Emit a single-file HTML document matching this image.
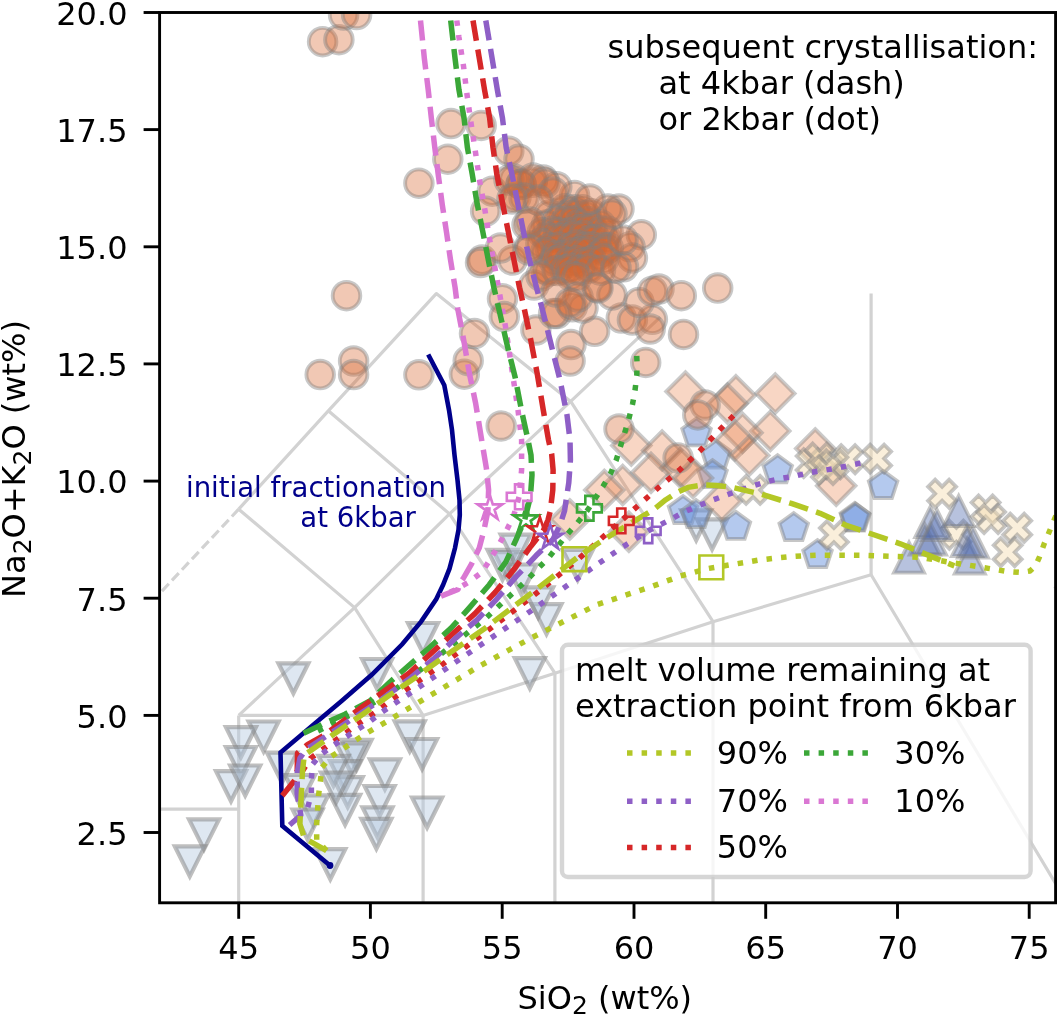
<!DOCTYPE html>
<html><head><meta charset="utf-8"><title>TAS diagram</title>
<style>html,body{margin:0;padding:0;background:#fff}body{width:1057px;height:1016px;overflow:hidden}</style>
</head><body>
<svg width="1057" height="1016" viewBox="0 0 1057 1016" style="display:block;font-family:'DejaVu Sans','Liberation Sans',sans-serif;will-change:transform">
<rect width="1057" height="1016" fill="#fff"/>
<defs><clipPath id="ax"><rect x="159.6" y="12.5" width="897.4" height="890.3"/></clipPath></defs>
<g clip-path="url(#ax)">
<polyline points="133.2,809.1 238.7,809.1" fill="none" stroke="#d2d2d2" stroke-width="3.2" stroke-linejoin="round"/>
<polyline points="238.7,902.8 238.7,715.4" fill="none" stroke="#d2d2d2" stroke-width="3.2" stroke-linejoin="round"/>
<polyline points="238.7,715.4 423.1,715.4 554.9,673.2 713.0,621.7 871.1,574.8 1095.1,949.7" fill="none" stroke="#d2d2d2" stroke-width="3.2" stroke-linejoin="round"/>
<polyline points="423.1,902.8 423.1,715.4" fill="none" stroke="#d2d2d2" stroke-width="3.2" stroke-linejoin="round"/>
<polyline points="554.9,902.8 554.9,673.2" fill="none" stroke="#d2d2d2" stroke-width="3.2" stroke-linejoin="round"/>
<polyline points="713.0,902.8 713.0,621.7" fill="none" stroke="#d2d2d2" stroke-width="3.2" stroke-linejoin="round"/>
<polyline points="871.1,574.8 871.1,293.6" fill="none" stroke="#d2d2d2" stroke-width="3.2" stroke-linejoin="round"/>
<polyline points="238.7,715.4 354.6,607.6 449.5,513.9 570.7,401.4 660.3,317.1" fill="none" stroke="#d2d2d2" stroke-width="3.2" stroke-linejoin="round"/>
<polyline points="423.1,715.4 354.6,607.6 238.7,509.2" fill="none" stroke="#d2d2d2" stroke-width="3.2" stroke-linejoin="round"/>
<polyline points="554.9,673.2 449.5,513.9 328.3,410.8" fill="none" stroke="#d2d2d2" stroke-width="3.2" stroke-linejoin="round"/>
<polyline points="713.0,621.7 570.7,401.4 436.3,293.6 328.3,410.8 238.7,509.2" fill="none" stroke="#d2d2d2" stroke-width="3.2" stroke-linejoin="round"/>
<polyline points="238.7,509.2 133.2,621.7" fill="none" stroke="#d2d2d2" stroke-width="3.2" stroke-dasharray="10 4.6"/>
<g fill="#b4c9de" fill-opacity="0.44" stroke="#808080" stroke-opacity="0.5" stroke-width="4.2" stroke-linejoin="miter">
<path d="M293.4 693.3 L308.4 663.3 L278.4 663.3Z"/>
<path d="M377.1 689.0 L392.1 659.0 L362.1 659.0Z"/>
<path d="M263.6 751.5 L278.6 721.5 L248.6 721.5Z"/>
<path d="M240.9 757.2 L255.9 727.2 L225.9 727.2Z"/>
<path d="M240.9 777.0 L255.9 747.0 L225.9 747.0Z"/>
<path d="M231.0 801.2 L246.0 771.2 L216.0 771.2Z"/>
<path d="M245.2 795.5 L260.2 765.5 L230.2 765.5Z"/>
<path d="M204.0 849.4 L219.0 819.4 L189.0 819.4Z"/>
<path d="M189.8 876.4 L204.8 846.4 L174.8 846.4Z"/>
<path d="M409.7 751.3 L424.7 721.3 L394.7 721.3Z"/>
<path d="M422.1 769.0 L437.1 739.0 L407.1 739.0Z"/>
<path d="M427.1 827.5 L442.1 797.5 L412.1 797.5Z"/>
<path d="M330.3 879.2 L345.3 849.2 L315.3 849.2Z"/>
<path d="M384.9 789.4 L399.9 759.4 L369.9 759.4Z"/>
<path d="M379.6 816.0 L394.6 786.0 L364.6 786.0Z"/>
<path d="M377.5 837.3 L392.5 807.3 L362.5 807.3Z"/>
<path d="M376.4 848.8 L391.4 818.8 L361.4 818.8Z"/>
<path d="M356.6 769.9 L371.6 739.9 L341.6 739.9Z"/>
<path d="M351.3 773.5 L366.3 743.5 L336.3 743.5Z"/>
<path d="M345.1 791.2 L360.1 761.2 L330.1 761.2Z"/>
<path d="M347.7 807.1 L362.7 777.1 L332.7 777.1Z"/>
<path d="M345.1 824.9 L360.1 794.9 L330.1 794.9Z"/>
<path d="M333.5 785.9 L348.5 755.9 L318.5 755.9Z"/>
<path d="M282.0 782.7 L297.0 752.7 L267.0 752.7Z"/>
<path d="M313.3 825.3 L328.3 795.3 L298.3 795.3Z"/>
<path d="M307.6 839.5 L322.6 809.5 L292.6 809.5Z"/>
<path d="M336.0 802.6 L351.0 772.6 L321.0 772.6Z"/>
<path d="M300.0 805.0 L315.0 775.0 L285.0 775.0Z"/>
<path d="M423.0 653.0 L438.0 623.0 L408.0 623.0Z"/>
<path d="M529.8 688.2 L544.8 658.2 L514.8 658.2Z"/>
<path d="M546.5 634.1 L561.5 604.1 L531.5 604.1Z"/>
<path d="M538.2 617.4 L553.2 587.4 L523.2 587.4Z"/>
<path d="M509.0 582.1 L524.0 552.1 L494.0 552.1Z"/>
<path d="M521.5 594.5 L536.5 564.5 L506.5 564.5Z"/>
<path d="M577.7 580.0 L592.7 550.0 L562.7 550.0Z"/>
<path d="M502.5 579.9 L517.5 549.9 L487.5 549.9Z"/>
<path d="M515.7 564.7 L530.7 534.7 L500.7 534.7Z"/>
<path d="M696.2 540.3 L711.2 510.3 L681.2 510.3Z"/>
<path d="M712.1 549.4 L727.1 519.4 L697.1 519.4Z"/>
</g>
<g fill="#6a93dd" fill-opacity="0.5" stroke="#808080" stroke-opacity="0.45" stroke-width="3.8" stroke-linejoin="miter">
<path d="M696.5 418.3 L710.8 428.7 L705.3 445.4 L687.7 445.4 L682.2 428.7Z"/>
<path d="M716.2 440.5 L730.5 450.9 L725.0 467.6 L707.4 467.6 L701.9 450.9Z"/>
<path d="M712.5 460.1 L726.8 470.5 L721.3 487.2 L703.7 487.2 L698.2 470.5Z"/>
<path d="M777.7 455.2 L792.0 465.6 L786.5 482.3 L768.9 482.3 L763.4 465.6Z"/>
<path d="M683.0 496.0 L697.3 506.4 L691.8 523.1 L674.2 523.1 L668.7 506.4Z"/>
<path d="M696.0 500.0 L710.3 510.4 L704.8 527.1 L687.2 527.1 L681.7 510.4Z"/>
<path d="M735.9 511.8 L750.2 522.2 L744.7 538.9 L727.1 538.9 L721.6 522.2Z"/>
<path d="M793.7 513.0 L808.0 523.4 L802.5 540.1 L784.9 540.1 L779.4 523.4Z"/>
<path d="M817.5 540.0 L831.8 550.4 L826.3 567.1 L808.7 567.1 L803.2 550.4Z"/>
<path d="M883.1 470.9 L897.4 481.3 L891.9 498.0 L874.3 498.0 L868.8 481.3Z"/>
<path d="M854.8 502.9 L869.1 513.3 L863.6 530.0 L846.0 530.0 L840.5 513.3Z"/>
<path d="M855.5 503.5 L869.8 513.9 L864.3 530.6 L846.7 530.6 L841.2 513.9Z"/>
</g>
<g fill="#ea7a42" fill-opacity="0.31" stroke="#808080" stroke-opacity="0.42" stroke-width="4.1" stroke-linejoin="miter">
<path d="M685.5 372.4 L704.6 391.5 L685.5 410.6 L666.4 391.5Z"/>
<path d="M735.9 376.1 L755.0 395.2 L735.9 414.3 L716.8 395.2Z"/>
<path d="M775.3 374.4 L794.4 393.5 L775.3 412.6 L756.2 393.5Z"/>
<path d="M770.3 411.8 L789.4 430.9 L770.3 450.0 L751.2 430.9Z"/>
<path d="M742.5 413.7 L761.6 432.8 L742.5 451.9 L723.4 432.8Z"/>
<path d="M735.0 421.2 L754.1 440.3 L735.0 459.4 L715.9 440.3Z"/>
<path d="M749.3 436.4 L768.4 455.5 L749.3 474.6 L730.2 455.5Z"/>
<path d="M631.3 426.5 L650.4 445.6 L631.3 464.7 L612.2 445.6Z"/>
<path d="M662.1 431.4 L681.2 450.5 L662.1 469.6 L643.0 450.5Z"/>
<path d="M651.0 453.6 L670.1 472.7 L651.0 491.8 L631.9 472.7Z"/>
<path d="M680.5 448.7 L699.6 467.8 L680.5 486.9 L661.4 467.8Z"/>
<path d="M622.7 465.9 L641.8 485.0 L622.7 504.1 L603.6 485.0Z"/>
<path d="M604.3 470.8 L623.4 489.9 L604.3 509.0 L585.2 489.9Z"/>
<path d="M569.8 500.3 L588.9 519.4 L569.8 538.5 L550.7 519.4Z"/>
<path d="M721.8 482.1 L740.9 501.2 L721.8 520.3 L702.7 501.2Z"/>
<path d="M628.9 512.6 L648.0 531.7 L628.9 550.8 L609.8 531.7Z"/>
<path d="M727.5 384.4 L746.6 403.5 L727.5 422.6 L708.4 403.5Z"/>
<path d="M693.0 458.9 L712.1 478.0 L693.0 497.1 L673.9 478.0Z"/>
<path d="M815.2 429.3 L834.3 448.4 L815.2 467.5 L796.1 448.4Z"/>
<path d="M836.2 466.7 L855.3 485.8 L836.2 504.9 L817.1 485.8Z"/>
<path d="M1075.5 568.4 L1094.6 587.5 L1075.5 606.6 L1056.4 587.5Z"/>
</g>
<g fill="#f5deb3" fill-opacity="0.47" stroke="#808080" stroke-opacity="0.45" stroke-width="3.8" stroke-linejoin="miter">
<path d="M746.1 475.9 L753.1 482.9 L760.1 475.9 L767.1 482.9 L760.1 489.9 L767.1 496.9 L760.1 503.9 L753.1 496.9 L746.1 503.9 L739.1 496.9 L746.1 489.9 L739.1 482.9Z"/>
<path d="M870.1 444.6 L877.1 451.6 L884.1 444.6 L891.1 451.6 L884.1 458.6 L891.1 465.6 L884.1 472.6 L877.1 465.6 L870.1 472.6 L863.1 465.6 L870.1 458.6 L863.1 451.6Z"/>
<path d="M841.1 445.2 L848.1 452.2 L855.1 445.2 L862.1 452.2 L855.1 459.2 L862.1 466.2 L855.1 473.2 L848.1 466.2 L841.1 473.2 L834.1 466.2 L841.1 459.2 L834.1 452.2Z"/>
<path d="M803.7 449.1 L810.7 456.1 L817.7 449.1 L824.7 456.1 L817.7 463.1 L824.7 470.1 L817.7 477.1 L810.7 470.1 L803.7 477.1 L796.7 470.1 L803.7 463.1 L796.7 456.1Z"/>
<path d="M812.7 443.5 L819.7 450.5 L826.7 443.5 L833.7 450.5 L826.7 457.5 L833.7 464.5 L826.7 471.5 L819.7 464.5 L812.7 471.5 L805.7 464.5 L812.7 457.5 L805.7 450.5Z"/>
<path d="M826.4 450.3 L833.4 457.3 L840.4 450.3 L847.4 457.3 L840.4 464.3 L847.4 471.3 L840.4 478.3 L833.4 471.3 L826.4 478.3 L819.4 471.3 L826.4 464.3 L819.4 457.3Z"/>
<path d="M819.0 456.0 L826.0 463.0 L833.0 456.0 L840.0 463.0 L833.0 470.0 L840.0 477.0 L833.0 484.0 L826.0 477.0 L819.0 484.0 L812.0 477.0 L819.0 470.0 L812.0 463.0Z"/>
<path d="M935.1 479.7 L942.1 486.7 L949.1 479.7 L956.1 486.7 L949.1 493.7 L956.1 500.7 L949.1 507.7 L942.1 500.7 L935.1 507.7 L928.1 500.7 L935.1 493.7 L928.1 486.7Z"/>
<path d="M978.6 495.5 L985.6 502.5 L992.6 495.5 L999.6 502.5 L992.6 509.5 L999.6 516.5 L992.6 523.5 L985.6 516.5 L978.6 523.5 L971.6 516.5 L978.6 509.5 L971.6 502.5Z"/>
<path d="M984.1 505.0 L991.1 512.0 L998.1 505.0 L1005.1 512.0 L998.1 519.0 L1005.1 526.0 L998.1 533.0 L991.1 526.0 L984.1 533.0 L977.1 526.0 L984.1 519.0 L977.1 512.0Z"/>
<path d="M1010.2 513.7 L1017.2 520.7 L1024.2 513.7 L1031.2 520.7 L1024.2 527.7 L1031.2 534.7 L1024.2 541.7 L1017.2 534.7 L1010.2 541.7 L1003.2 534.7 L1010.2 527.7 L1003.2 520.7Z"/>
<path d="M1000.7 538.2 L1007.7 545.2 L1014.7 538.2 L1021.7 545.2 L1014.7 552.2 L1021.7 559.2 L1014.7 566.2 L1007.7 559.2 L1000.7 566.2 L993.7 559.2 L1000.7 552.2 L993.7 545.2Z"/>
<path d="M949.4 520.8 L956.4 527.8 L963.4 520.8 L970.4 527.8 L963.4 534.8 L970.4 541.8 L963.4 548.8 L956.4 541.8 L949.4 548.8 L942.4 541.8 L949.4 534.8 L942.4 527.8Z"/>
<path d="M826.9 521.1 L833.9 528.1 L840.9 521.1 L847.9 528.1 L840.9 535.1 L847.9 542.1 L840.9 549.1 L833.9 542.1 L826.9 549.1 L819.9 542.1 L826.9 535.1 L819.9 528.1Z"/>
</g>
<g fill="#4a66ad" fill-opacity="0.4" stroke="#808080" stroke-opacity="0.45" stroke-width="3.8" stroke-linejoin="miter">
<path d="M909.0 542.7 L924.0 572.7 L894.0 572.7Z"/>
<path d="M930.3 507.1 L945.3 537.1 L915.3 537.1Z"/>
<path d="M924.8 524.5 L939.8 554.5 L909.8 554.5Z"/>
<path d="M931.0 524.5 L946.0 554.5 L916.0 554.5Z"/>
<path d="M958.7 496.0 L973.7 526.0 L943.7 526.0Z"/>
<path d="M969.8 543.5 L984.8 573.5 L954.8 573.5Z"/>
<path d="M973.0 527.7 L988.0 557.7 L958.0 557.7Z"/>
<path d="M967.0 526.0 L982.0 556.0 L952.0 556.0Z"/>
<path d="M937.0 510.0 L952.0 540.0 L922.0 540.0Z"/>
</g>
<g fill="#d8672e" fill-opacity="0.36" stroke="#808080" stroke-opacity="0.43" stroke-width="3.9" stroke-linejoin="miter">
<circle cx="322.6" cy="41.7" r="13.8"/>
<circle cx="338.9" cy="39.7" r="13.8"/>
<circle cx="343.6" cy="15.0" r="13.8"/>
<circle cx="356.6" cy="14.5" r="13.8"/>
<circle cx="451.0" cy="123.6" r="13.8"/>
<circle cx="481.2" cy="125.4" r="13.8"/>
<circle cx="447.8" cy="159.2" r="13.8"/>
<circle cx="418.9" cy="183.2" r="13.8"/>
<circle cx="346.5" cy="295.7" r="13.8"/>
<circle cx="320.2" cy="374.6" r="13.8"/>
<circle cx="353.6" cy="361.0" r="13.8"/>
<circle cx="353.6" cy="374.6" r="13.8"/>
<circle cx="418.9" cy="374.8" r="13.8"/>
<circle cx="464.3" cy="374.2" r="13.8"/>
<circle cx="468.2" cy="360.7" r="13.8"/>
<circle cx="474.5" cy="333.5" r="13.8"/>
<circle cx="501.2" cy="426.0" r="13.8"/>
<circle cx="508.8" cy="151.2" r="13.8"/>
<circle cx="519.0" cy="159.2" r="13.8"/>
<circle cx="492.3" cy="191.2" r="13.8"/>
<circle cx="485.6" cy="211.2" r="13.8"/>
<circle cx="482.1" cy="260.1" r="13.8"/>
<circle cx="480.5" cy="262.5" r="13.8"/>
<circle cx="512.3" cy="260.1" r="13.8"/>
<circle cx="502.5" cy="298.8" r="13.8"/>
<circle cx="504.3" cy="316.6" r="13.8"/>
<circle cx="535.9" cy="330.0" r="13.8"/>
<circle cx="556.8" cy="313.5" r="13.8"/>
<circle cx="571.0" cy="344.6" r="13.8"/>
<circle cx="570.1" cy="361.0" r="13.8"/>
<circle cx="594.6" cy="331.3" r="13.8"/>
<circle cx="572.4" cy="306.8" r="13.8"/>
<circle cx="583.0" cy="308.0" r="13.8"/>
<circle cx="621.3" cy="318.0" r="13.8"/>
<circle cx="632.4" cy="320.1" r="13.8"/>
<circle cx="652.4" cy="319.3" r="13.8"/>
<circle cx="650.2" cy="329.0" r="13.8"/>
<circle cx="639.0" cy="302.4" r="13.8"/>
<circle cx="652.4" cy="291.2" r="13.8"/>
<circle cx="659.0" cy="289.0" r="13.8"/>
<circle cx="681.3" cy="295.7" r="13.8"/>
<circle cx="683.5" cy="334.4" r="13.8"/>
<circle cx="717.7" cy="288.1" r="13.8"/>
<circle cx="645.7" cy="362.4" r="13.8"/>
<circle cx="619.0" cy="429.0" r="13.8"/>
<circle cx="641.3" cy="234.8" r="13.8"/>
<circle cx="630.1" cy="246.8" r="13.8"/>
<circle cx="632.4" cy="257.9" r="13.8"/>
<circle cx="623.5" cy="266.8" r="13.8"/>
<circle cx="619.0" cy="209.0" r="13.8"/>
<circle cx="607.9" cy="209.0" r="13.8"/>
<circle cx="574.6" cy="195.6" r="13.8"/>
<circle cx="543.4" cy="180.1" r="13.8"/>
<circle cx="532.3" cy="182.3" r="13.8"/>
<circle cx="521.2" cy="184.5" r="13.8"/>
<circle cx="556.8" cy="186.7" r="13.8"/>
<circle cx="553.6" cy="313.5" r="13.8"/>
<circle cx="597.0" cy="287.0" r="13.8"/>
<circle cx="612.0" cy="295.0" r="13.8"/>
<circle cx="705.1" cy="405.0" r="13.8"/>
<circle cx="697.8" cy="414.9" r="13.8"/>
<circle cx="678.1" cy="457.9" r="13.8"/>
<circle cx="514.0" cy="179.0" r="13.8"/>
<circle cx="516.0" cy="197.0" r="13.8"/>
<circle cx="500.5" cy="248.0" r="13.8"/>
<circle cx="527.0" cy="225.0" r="13.8"/>
<circle cx="530.0" cy="246.0" r="13.8"/>
<circle cx="546.0" cy="269.0" r="13.8"/>
<circle cx="534.0" cy="285.0" r="13.8"/>
<circle cx="549.0" cy="271.0" r="13.8"/>
<circle cx="565.0" cy="208.8" r="13.8"/>
<circle cx="574.3" cy="209.8" r="13.8"/>
<circle cx="582.4" cy="209.7" r="13.8"/>
<circle cx="549.4" cy="215.0" r="13.8"/>
<circle cx="562.4" cy="215.9" r="13.8"/>
<circle cx="570.6" cy="213.3" r="13.8"/>
<circle cx="576.8" cy="213.9" r="13.8"/>
<circle cx="585.6" cy="215.6" r="13.8"/>
<circle cx="591.4" cy="213.8" r="13.8"/>
<circle cx="546.5" cy="224.9" r="13.8"/>
<circle cx="557.3" cy="221.1" r="13.8"/>
<circle cx="565.9" cy="221.0" r="13.8"/>
<circle cx="573.4" cy="220.9" r="13.8"/>
<circle cx="578.7" cy="224.7" r="13.8"/>
<circle cx="588.1" cy="221.4" r="13.8"/>
<circle cx="600.4" cy="224.7" r="13.8"/>
<circle cx="542.3" cy="232.7" r="13.8"/>
<circle cx="552.0" cy="231.3" r="13.8"/>
<circle cx="558.7" cy="232.6" r="13.8"/>
<circle cx="569.6" cy="232.7" r="13.8"/>
<circle cx="579.0" cy="229.4" r="13.8"/>
<circle cx="584.7" cy="228.7" r="13.8"/>
<circle cx="592.0" cy="228.2" r="13.8"/>
<circle cx="601.2" cy="230.9" r="13.8"/>
<circle cx="608.1" cy="231.3" r="13.8"/>
<circle cx="546.8" cy="237.0" r="13.8"/>
<circle cx="557.6" cy="237.9" r="13.8"/>
<circle cx="563.5" cy="237.9" r="13.8"/>
<circle cx="573.8" cy="235.8" r="13.8"/>
<circle cx="583.6" cy="235.6" r="13.8"/>
<circle cx="590.8" cy="239.7" r="13.8"/>
<circle cx="595.6" cy="239.4" r="13.8"/>
<circle cx="605.7" cy="238.4" r="13.8"/>
<circle cx="540.9" cy="243.3" r="13.8"/>
<circle cx="550.2" cy="247.9" r="13.8"/>
<circle cx="558.7" cy="246.9" r="13.8"/>
<circle cx="570.7" cy="247.8" r="13.8"/>
<circle cx="576.2" cy="244.9" r="13.8"/>
<circle cx="585.5" cy="247.0" r="13.8"/>
<circle cx="591.8" cy="246.8" r="13.8"/>
<circle cx="603.7" cy="247.4" r="13.8"/>
<circle cx="608.3" cy="247.8" r="13.8"/>
<circle cx="545.6" cy="252.4" r="13.8"/>
<circle cx="556.6" cy="255.3" r="13.8"/>
<circle cx="563.6" cy="255.3" r="13.8"/>
<circle cx="573.0" cy="252.3" r="13.8"/>
<circle cx="580.3" cy="251.6" r="13.8"/>
<circle cx="587.5" cy="251.4" r="13.8"/>
<circle cx="598.9" cy="255.7" r="13.8"/>
<circle cx="604.7" cy="250.9" r="13.8"/>
<circle cx="554.2" cy="261.0" r="13.8"/>
<circle cx="559.7" cy="259.5" r="13.8"/>
<circle cx="569.1" cy="262.4" r="13.8"/>
<circle cx="576.8" cy="260.4" r="13.8"/>
<circle cx="583.2" cy="262.9" r="13.8"/>
<circle cx="591.5" cy="260.8" r="13.8"/>
<circle cx="603.9" cy="259.0" r="13.8"/>
<circle cx="557.2" cy="270.6" r="13.8"/>
<circle cx="565.1" cy="269.8" r="13.8"/>
<circle cx="570.8" cy="268.1" r="13.8"/>
<circle cx="579.4" cy="270.1" r="13.8"/>
<circle cx="588.6" cy="268.2" r="13.8"/>
<circle cx="600.5" cy="270.2" r="13.8"/>
<circle cx="571.0" cy="275.8" r="13.8"/>
<circle cx="576.9" cy="277.1" r="13.8"/>
<circle cx="509.0" cy="180.0" r="13.8"/>
<circle cx="521.0" cy="184.0" r="13.8"/>
<circle cx="533.0" cy="178.0" r="13.8"/>
<circle cx="545.0" cy="183.0" r="13.8"/>
<circle cx="553.0" cy="192.0" r="13.8"/>
<circle cx="524.0" cy="198.0" r="13.8"/>
<circle cx="538.0" cy="200.0" r="13.8"/>
<circle cx="512.0" cy="199.0" r="13.8"/>
<circle cx="530.0" cy="222.0" r="13.8"/>
<circle cx="529.0" cy="250.0" r="13.8"/>
<circle cx="541.0" cy="276.0" r="13.8"/>
<circle cx="556.0" cy="292.0" r="13.8"/>
<circle cx="578.0" cy="297.0" r="13.8"/>
<circle cx="598.0" cy="288.0" r="13.8"/>
<circle cx="616.0" cy="268.0" r="13.8"/>
<circle cx="623.0" cy="240.0" r="13.8"/>
<circle cx="612.0" cy="214.0" r="13.8"/>
<circle cx="590.0" cy="199.0" r="13.8"/>
<circle cx="570.0" cy="303.0" r="13.8"/>
</g>
<polyline points="428.2,354.5 444.3,385.2 449.0,410.0 452.0,430.0 454.5,455.0 457.5,480.0 459.5,500.0 459.8,515.0 458.5,530.0 455.0,548.0 449.5,568.7 443.0,585.0 436.3,599.0 421.1,621.6 402.2,644.3 372.0,674.6 341.6,701.0 319.0,720.0 280.5,752.5 282.3,825.8 330.0,865.5" fill="none" stroke="#00008b" stroke-width="4.6" stroke-linejoin="miter" stroke-linecap="butt"/>
<circle cx="330" cy="865.5" r="3.4" fill="#00008b"/>
<polyline points="456.8,20.5 458.9,37.1 463.5,66.0 467.1,95.2 471.2,124.1 475.6,153.0 479.9,182.2 485.0,210.4 489.6,239.3 494.9,267.7 500.2,297.0 505.3,325.4 512.0,370.0 518.0,410.0 521.6,440.0 521.6,470.0 519.1,496.8 513.4,516.6 504.9,533.7 496.4,549.3 482.2,572.0 469.5,581.6 455.0,590.0 442.6,595.3" fill="none" stroke="#da77d3" stroke-width="5.5" stroke-linejoin="round" stroke-linecap="butt" stroke-dasharray="5.5 9.1" stroke-dashoffset="0.0"/>
<polyline points="420.5,20.5 424.4,58.9 428.2,89.6 431.3,117.7 434.6,145.9 438.5,176.6 442.3,204.8 446.6,232.9 450.4,259.2 455.1,287.6 457.7,308.4 464.0,341.7 469.2,372.4 475.6,403.1 483.2,449.2 486.4,468.4 488.6,490.0 487.9,511.0 484.0,530.0 479.3,547.9 471.6,563.9 463.2,578.5 460.1,583.0 458.0,589.5 441.0,596.1" fill="none" stroke="#da77d3" stroke-width="5.5" stroke-linejoin="round" stroke-linecap="butt" stroke-dasharray="20.20 8.73" stroke-dashoffset="0.0"/>
<polyline points="318.0,731.0 340.0,720.0 365.0,708.0 394.6,689.8 440.4,654.5 486.1,618.0 528.8,578.1 549.0,557.3 567.4,534.2 577.2,523.1 587.1,510.8 594.4,499.7 603.1,486.2 610.4,473.9 616.1,460.4 620.3,446.9 624.5,433.3 628.9,418.6 632.6,403.8 635.0,390.3 636.8,375.5 637.0,362.0 636.4,348.0" fill="none" stroke="#3ba738" stroke-width="5.5" stroke-linejoin="round" stroke-linecap="butt" stroke-dasharray="5.5 9.1" stroke-dashoffset="0.0"/>
<polyline points="450.7,20.5 455.1,58.9 458.9,89.6 464.0,117.7 467.4,147.6 472.2,174.0 476.9,202.4 482.6,230.8 488.2,259.2 493.9,287.6 499.9,313.5 507.6,346.8 515.2,377.5 521.6,410.8 528.0,440.0 531.0,455.0 532.0,475.0 530.4,496.8 524.8,519.5 516.2,539.3 505.9,561.9 489.3,584.7 469.5,607.6 450.8,628.4 429.9,647.2 407.1,667.0 390.0,682.0 369.9,700.9 345.0,714.2 327.3,722.0 302.5,733.7" fill="none" stroke="#3ba738" stroke-width="5.5" stroke-linejoin="round" stroke-linecap="butt" stroke-dasharray="20.01 8.66" stroke-dashoffset="0.0"/>
<polyline points="302.5,770.9 310.5,758.5 321.1,750.5 333.5,741.6 345.0,733.7 356.6,724.8 369.0,716.8 381.4,708.0 392.5,699.2 440.4,665.9 487.2,630.9 534.0,595.2 578.8,558.7 622.7,519.4 635.0,508.4 657.2,488.7 679.3,470.2 700.2,450.5 719.9,429.6 739.0,410.0" fill="none" stroke="#d62728" stroke-width="5.5" stroke-linejoin="round" stroke-linecap="butt" stroke-dasharray="5.5 9.1" stroke-dashoffset="0.0"/>
<polyline points="473.0,20.5 479.4,58.9 484.5,89.6 489.6,117.7 493.0,147.6 496.8,174.0 502.4,202.4 508.1,230.8 513.8,259.2 519.5,287.6 524.2,308.4 530.6,339.1 537.0,372.4 543.4,410.8 548.5,440.0 551.7,454.2 553.1,470.0 552.8,490.0 550.3,511.0 548.0,520.0 543.2,530.8 530.9,546.2 514.2,569.1 495.5,592.0 474.7,613.9 452.8,633.7 431.0,653.4 409.1,673.2 385.0,690.5 360.0,708.5 323.8,735.4 307.8,744.3 297.5,753.0 297.2,770.0 294.6,780.6 282.2,795.7" fill="none" stroke="#d62728" stroke-width="5.5" stroke-linejoin="round" stroke-linecap="butt" stroke-dasharray="20.49 8.86" stroke-dashoffset="0.0"/>
<polyline points="307.8,807.2 311.4,794.0 311.4,778.9 312.3,764.7 320.3,755.0 332.7,746.0 344.2,738.1 356.6,730.1 369.0,722.2 381.0,712.7 428.9,680.5 477.4,647.2 525.7,614.5 573.5,581.2 598.6,563.5 621.3,547.9 648.2,530.8 670.7,519.4 683.0,512.5 696.5,506.6 710.1,501.0 723.6,496.1 737.1,491.1 751.9,486.2 765.4,482.0 778.9,478.8 793.7,476.4 808.5,472.7 821.6,470.7 836.4,468.2 851.1,465.0 865.9,462.1" fill="none" stroke="#8e5fc6" stroke-width="5.5" stroke-linejoin="round" stroke-linecap="butt" stroke-dasharray="5.5 9.1" stroke-dashoffset="0.0"/>
<polyline points="485.8,20.5 492.2,58.9 497.3,89.6 502.4,117.7 506.2,147.6 511.9,174.0 517.6,202.4 523.3,230.8 528.9,257.3 536.5,287.6 542.1,308.4 548.5,334.0 560.0,380.0 567.0,415.0 570.0,440.0 570.4,460.0 568.8,482.6 564.5,511.0 560.0,525.0 553.1,539.3 536.1,555.6 516.3,576.4 496.5,599.3 476.8,620.1 456.0,637.8 434.1,658.6 411.2,677.4 380.0,700.5 340.0,727.0 306.0,749.6 300.0,758.0 297.2,772.7 297.2,794.0 300.8,815.2 286.6,827.6" fill="none" stroke="#8e5fc6" stroke-width="5.5" stroke-linejoin="round" stroke-linecap="butt" stroke-dasharray="20.05 8.67" stroke-dashoffset="0.0"/>
<polyline points="326.5,850.6 316.7,840.0 316.7,824.0 317.6,810.0 318.5,795.7 320.3,781.5 322.0,767.3 330.9,756.7 343.3,748.7 354.8,740.8 367.2,732.8 380.5,725.2 429.9,695.7 479.9,665.9 531.5,637.8 570.4,618.0 597.5,604.5 627.0,594.7 652.5,586.2 680.5,576.0 707.6,568.6 729.7,564.9 744.5,562.5 759.3,560.0 774.0,558.3 788.8,556.8 803.5,555.8 818.3,555.1 860.0,555.3 920.0,557.3 949.5,562.2 977.8,566.6 1006.1,571.3 1020.9,572.5 1030.0,571.0 1035.5,566.0 1039.3,557.3 1044.2,543.8 1050.4,529.0 1057.0,513.0" fill="none" stroke="#b3c726" stroke-width="5.5" stroke-linejoin="round" stroke-linecap="butt" stroke-dasharray="5.5 9.1" stroke-dashoffset="0.0"/>
<polyline points="326.5,850.6 304.3,838.2 299.9,824.0 301.0,800.0 302.5,770.9 304.3,755.0 334.4,733.7 362.8,714.2 388.3,696.1 415.5,677.5 437.2,661.7 486.1,627.4 533.0,592.0 579.8,555.6 604.3,539.1 653.5,509.6 665.8,499.7 677.0,492.5 687.9,487.4 702.7,485.0 717.0,485.5 732.2,487.4 759.3,493.6 791.3,503.4 820.0,513.3 846.2,525.3 900.3,543.8 954.4,565.9" fill="none" stroke="#b3c726" stroke-width="5.5" stroke-linejoin="round" stroke-linecap="butt" stroke-dasharray="19.82 8.57" stroke-dashoffset="0.0"/>
<path d="M489.9 495.3 L492.8 504.3 L502.3 504.3 L494.6 509.8 L497.5 518.8 L489.9 513.3 L482.3 518.8 L485.2 509.8 L477.5 504.3 L487.0 504.3Z" fill="none" stroke="#da77d3" stroke-width="2.65"/>
<path d="M526.0 506.3 L528.9 515.3 L538.4 515.3 L530.7 520.8 L533.6 529.8 L526.0 524.3 L518.4 529.8 L521.3 520.8 L513.6 515.3 L523.1 515.3Z" fill="none" stroke="#3ba738" stroke-width="2.65"/>
<path d="M539.9 517.2 L542.8 526.2 L552.3 526.2 L544.6 531.7 L547.5 540.7 L539.9 535.2 L532.3 540.7 L535.2 531.7 L527.5 526.2 L537.0 526.2Z" fill="none" stroke="#d62728" stroke-width="2.65"/>
<path d="M550.3 524.7 L553.2 533.7 L562.7 533.7 L555.0 539.2 L557.9 548.2 L550.3 542.7 L542.7 548.2 L545.6 539.2 L537.9 533.7 L547.4 533.7Z" fill="none" stroke="#8e5fc6" stroke-width="2.65"/>
<path d="M515.0 484.4 L523.2 484.4 L523.2 492.7 L531.5 492.7 L531.5 500.9 L523.2 500.9 L523.2 509.2 L515.0 509.2 L515.0 500.9 L506.8 500.9 L506.8 492.7 L515.0 492.7Z" fill="none" stroke="#da77d3" stroke-width="2.6"/>
<path d="M585.3 495.9 L593.5 495.9 L593.5 504.2 L601.8 504.2 L601.8 512.4 L593.5 512.4 L593.5 520.6 L585.3 520.6 L585.3 512.4 L577.0 512.4 L577.0 504.2 L585.3 504.2Z" fill="none" stroke="#3ba738" stroke-width="2.6"/>
<path d="M617.2 508.5 L625.4 508.5 L625.4 516.8 L633.6 516.8 L633.6 525.0 L625.4 525.0 L625.4 533.2 L617.2 533.2 L617.2 525.0 L608.9 525.0 L608.9 516.8 L617.2 516.8Z" fill="none" stroke="#d62728" stroke-width="2.6"/>
<path d="M644.1 518.4 L652.3 518.4 L652.3 526.7 L660.6 526.7 L660.6 534.9 L652.3 534.9 L652.3 543.1 L644.1 543.1 L644.1 534.9 L635.9 534.9 L635.9 526.7 L644.1 526.7Z" fill="none" stroke="#8e5fc6" stroke-width="2.6"/>
<path d="M562.5 547.3 L586.3 547.3 L586.3 571.1 L562.5 571.1Z" fill="none" stroke="#b3c726" stroke-width="2.6"/>
<path d="M699.4 555.5 L723.2 555.5 L723.2 579.3 L699.4 579.3Z" fill="none" stroke="#b3c726" stroke-width="2.6"/>
</g>
<g fill="#00008b" font-size="27.55"><text x="186" y="497">initial fractionation</text><text x="300.3" y="527.3">at 6kbar</text></g>
<g fill="#000" font-size="32"><text x="607.5" y="57.8">subsequent crystallisation:</text><text x="658.5" y="93.6">at 4kbar (dash)</text><text x="658.5" y="129.6">or 2kbar (dot)</text></g>
<rect x="562" y="644.7" width="468.5999999999999" height="232.29999999999995" rx="6" ry="6" fill="#fff" fill-opacity="0.8" stroke="#cccccc" stroke-opacity="0.8" stroke-width="4.4"/>
<g fill="#000" font-size="32"><text x="575" y="681.2">melt volume remaining at</text><text x="575" y="717.4">extraction point from 6kbar</text>
<text x="716.8" y="763.8">90%</text>
<line x1="627" y1="753" x2="691" y2="753" stroke="#b3c726" stroke-width="5.5" stroke-dasharray="5.5 9.1"/>
<text x="716.8" y="811.6">70%</text>
<line x1="627" y1="801.2" x2="691" y2="801.2" stroke="#8e5fc6" stroke-width="5.5" stroke-dasharray="5.5 9.1"/>
<text x="716.8" y="858.2">50%</text>
<line x1="627" y1="847.4" x2="691" y2="847.4" stroke="#d62728" stroke-width="5.5" stroke-dasharray="5.5 9.1"/>
<text x="894.3" y="763.8">30%</text>
<line x1="804" y1="753" x2="868" y2="753" stroke="#3ba738" stroke-width="5.5" stroke-dasharray="5.5 9.1"/>
<text x="894.3" y="811.6">10%</text>
<line x1="804" y1="801.2" x2="868" y2="801.2" stroke="#da77d3" stroke-width="5.5" stroke-dasharray="5.5 9.1"/>
</g>
<rect x="159.6" y="12.5" width="895.9999999999999" height="890.3" fill="none" stroke="#000" stroke-width="2.9"/>
<g stroke="#000" stroke-width="2.9">
<line x1="238.7" y1="902.8" x2="238.7" y2="918.8"/>
<line x1="370.4" y1="902.8" x2="370.4" y2="918.8"/>
<line x1="502.2" y1="902.8" x2="502.2" y2="918.8"/>
<line x1="634.0" y1="902.8" x2="634.0" y2="918.8"/>
<line x1="765.7" y1="902.8" x2="765.7" y2="918.8"/>
<line x1="897.5" y1="902.8" x2="897.5" y2="918.8"/>
<line x1="1029.2" y1="902.8" x2="1029.2" y2="918.8"/>
<line x1="159.6" y1="832.5" x2="143.6" y2="832.5"/>
<line x1="159.6" y1="715.4" x2="143.6" y2="715.4"/>
<line x1="159.6" y1="598.2" x2="143.6" y2="598.2"/>
<line x1="159.6" y1="481.1" x2="143.6" y2="481.1"/>
<line x1="159.6" y1="363.9" x2="143.6" y2="363.9"/>
<line x1="159.6" y1="246.8" x2="143.6" y2="246.8"/>
<line x1="159.6" y1="129.6" x2="143.6" y2="129.6"/>
<line x1="159.6" y1="12.5" x2="143.6" y2="12.5"/>
</g>
<g fill="#000" font-size="32">
<text x="238.7" y="959.2" text-anchor="middle">45</text>
<text x="370.4" y="959.2" text-anchor="middle">50</text>
<text x="502.2" y="959.2" text-anchor="middle">55</text>
<text x="634.0" y="959.2" text-anchor="middle">60</text>
<text x="765.7" y="959.2" text-anchor="middle">65</text>
<text x="897.5" y="959.2" text-anchor="middle">70</text>
<text x="1029.2" y="959.2" text-anchor="middle">75</text>
<text x="127.5" y="844.8" text-anchor="end">2.5</text>
<text x="127.5" y="727.7" text-anchor="end">5.0</text>
<text x="127.5" y="610.5" text-anchor="end">7.5</text>
<text x="127.5" y="493.4" text-anchor="end">10.0</text>
<text x="127.5" y="376.2" text-anchor="end">12.5</text>
<text x="127.5" y="259.1" text-anchor="end">15.0</text>
<text x="127.5" y="141.9" text-anchor="end">17.5</text>
<text x="127.5" y="24.8" text-anchor="end">20.0</text>
<text x="604.8" y="1008.5" text-anchor="middle">SiO<tspan font-size="25.0" dy="5.5">2</tspan><tspan dy="-5.5"> (wt%)</tspan></text>
<text transform="translate(25.3,459) rotate(-90)" text-anchor="middle">Na<tspan font-size="25.0" dy="5.5">2</tspan><tspan dy="-5.5">O+K</tspan><tspan font-size="25.0" dy="5.5">2</tspan><tspan dy="-5.5">O (wt%)</tspan></text>
</g>
</svg>
</body></html>
